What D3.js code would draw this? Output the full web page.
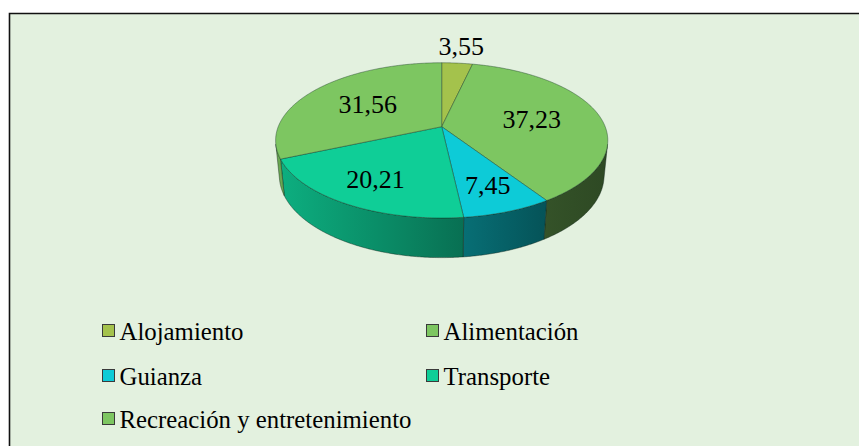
<!DOCTYPE html>
<html>
<head>
<meta charset="utf-8">
<script src="https://cdn.jsdelivr.net/npm/d3@7"></script>
<style>
  html, body { margin: 0; padding: 0; background: #ffffff; }
  svg { display: block; }
</style>
</head>
<body>
<svg id="chart" width="859" height="446"></svg>
<script>
// Spending shares by category (percent)
const categories = ["Alojamiento", "Alimentación", "Guianza", "Transporte", "Recreación y entretenimiento"];
const values = [3.55, 37.23, 7.45, 20.21, 31.56];
const valueLabels = ["3,55", "37,23", "7,45", "20,21", "31,56"];
const colors = ["#a4c24c", "#7dc661", "#0dcbd7", "#0fce97", "#7dc661"];

const W = 859, H = 446;
const FONT = "'Liberation Serif', 'Times New Roman', Tinos, 'DejaVu Serif', serif";
const svg = d3.select("#chart");

// Panel background and frame
svg.append("rect").attr("x", 9.5).attr("y", 13.5).attr("width", W).attr("height", H)
  .attr("fill", "#e3f1df");
svg.append("path").attr("d", `M9.5,${H} V13.5 H${W}`)
  .attr("fill", "none").attr("stroke", "#111").attr("stroke-width", 1.6);

// Perspective view of a tilted disk
const cx = 441.7, cy = 126.7;        // screen position of the pie centre (top face)
const sinT = 0.46, cosT = Math.sqrt(1 - sinT * sinT);
const D = 5.04, F = 824, thick = 0.245;

function project(theta, r, depth) {
  const u = r * Math.sin(theta), v = -r * Math.cos(theta);
  const X = u, Y = v * sinT + depth * cosT, Z = D - v * cosT + depth * sinT;
  return [cx + F * X / Z, cy + F * Y / Z];
}

const pie = d3.pie().sort(null).value(d => d);
const arcs = pie(values);

function rimPoints(a0, a1, depth) {
  const n = Math.max(2, Math.ceil(Math.abs(a1 - a0) / (Math.PI / 360)));
  return d3.range(n + 1).map(i => project(a0 + (a1 - a0) * i / n, 1, depth));
}
const line = d3.line();

// Shading of the outer wall: darker towards the right
const xLeft = project(-Math.PI / 2, 1, 0)[0], xRight = project(Math.PI / 2, 1, 0)[0];
const shade = d3.scaleLinear().domain([277, 460, 546, 606]).range([0.85, 0.55, 0.41, 0.37]).clamp(true);
const defs = svg.append("defs");
arcs.forEach((a, i) => {
  const g = defs.append("linearGradient").attr("id", "wall" + i)
    .attr("gradientUnits", "userSpaceOnUse")
    .attr("x1", xLeft).attr("x2", xRight).attr("y1", 0).attr("y2", 0);
  const base = d3.rgb(colors[i]);
  d3.range(0, 1.0001, 0.1).forEach(t => {
    const x = xLeft + (xRight - xLeft) * t;
    const k = shade(x);
    g.append("stop").attr("offset", t)
      .attr("stop-color", d3.rgb(base.r * k, base.g * k, base.b * k).formatHex());
  });
});

// Visible part of the wall: where the outward normal faces the viewer
const vMin = 1 / (cosT * D);
const visLo = Math.acos(-vMin), visHi = 2 * Math.PI - visLo;

const walls = svg.append("g");
arcs.forEach((a, i) => {
  const a0 = Math.max(a.startAngle, visLo), a1 = Math.min(a.endAngle, visHi);
  if (a1 <= a0) return;
  const top = rimPoints(a0, a1, 0);
  const bottom = rimPoints(a1, a0, thick);
  walls.append("path")
    .attr("d", line(top.concat(bottom)) + "Z")
    .attr("fill", `url(#wall${i})`)
    .attr("stroke", "#0d1f16").attr("stroke-opacity", 0.6).attr("stroke-width", 0.7)
    .attr("stroke-linejoin", "round");
});

// Top faces
const tops = svg.append("g");
arcs.forEach((a, i) => {
  const pts = [project(0, 0, 0)].concat(rimPoints(a.startAngle, a.endAngle, 0));
  tops.append("path")
    .attr("d", line(pts) + "Z")
    .attr("fill", colors[i])
    .attr("stroke", "#163524").attr("stroke-opacity", 0.6).attr("stroke-width", 0.7)
    .attr("stroke-linejoin", "round");
});

// Value labels along each slice's mid angle; narrow slices get theirs outside
const labels = svg.append("g");
arcs.forEach((a, i) => {
  const mid = (a.startAngle + a.endAngle) / 2;
  const share = (a.endAngle - a.startAngle) / (2 * Math.PI);
  const vMid = -Math.cos(mid);
  const r = share < 0.05 ? 1.32 : (vMid > 0 ? 0.6 + 0.14 * vMid : 0.57);
  const [x, y] = project(mid, r, 0);
  labels.append("text")
    .attr("x", x).attr("y", y).attr("dy", "0.34em")
    .attr("text-anchor", "middle")
    .style("font-family", FONT)
    .attr("font-size", 26).attr("fill", "#000")
    .text(valueLabels[i]);
});

// Legend in two columns
const legendCols = [102, 426], legendRows = [340, 385, 428];
const legend = svg.append("g");
categories.forEach((c, i) => {
  const x = legendCols[i % 2], y = legendRows[Math.floor(i / 2)];
  legend.append("rect")
    .attr("x", x + 0.5).attr("y", y - 15.5).attr("width", 12).attr("height", 12)
    .attr("fill", colors[i]).attr("stroke", "#3a3a3a").attr("stroke-width", 1);
  legend.append("text")
    .attr("x", x + 17.5).attr("y", y)
    .style("font-family", FONT)
    .attr("font-size", 24.8).attr("fill", "#000")
    .text(c);
});
</script>
</body>
</html>
